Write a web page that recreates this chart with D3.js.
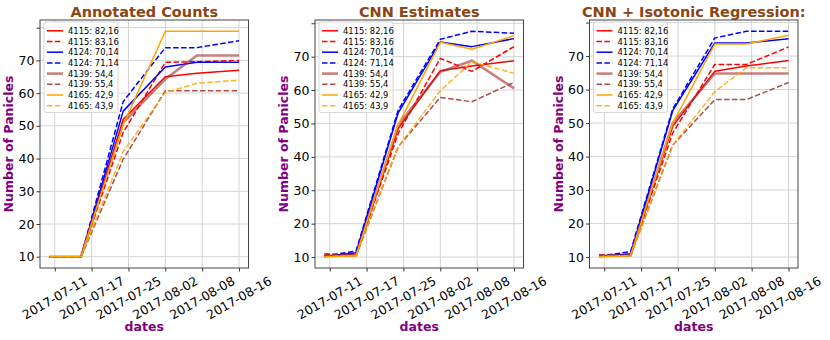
<!DOCTYPE html>
<html><head><meta charset="utf-8">
<script src="https://cdn.jsdelivr.net/npm/d3@7"></script>
<style>body{margin:0;background:#fff}svg{display:block}</style>
</head><body>
<svg id="chart" width="830" height="340"></svg>
<script>
// ---- data ----
const dates = ["2017-07-11","2017-07-17","2017-07-25","2017-08-02","2017-08-08","2017-08-16"];
const tickDates = ["2017-07-12","2017-07-19","2017-07-26","2017-08-02","2017-08-09","2017-08-16"];
const tickLabels = ["2017-07-11","2017-07-17","2017-07-25","2017-08-02","2017-08-08","2017-08-16"];
const yTicks = [10,20,30,40,50,60,70,80];
const yTickLabels = ["10","20","30","40","50","60","70",""];
const seriesNames = ["4115: 82,16","4115: 83,16","4124: 70,14","4124: 71,14","4139: 54,4","4139: 55,4","4165: 42,9","4165: 43,9"];
const titles = ["Annotated Counts","CNN Estimates","CNN + Isotonic Regression:"];

const annotatedCounts = [
  [10,10,52.0,65.0,66.1,67.0],
  [10,10,48.0,69.4,69.6,70.0],
  [10,10,54.5,68.0,69.4,69.4],
  [10,10,57.4,73.9,73.9,76.0],
  [10,10,51.0,64.3,71.5,71.5],
  [10,10,39.8,60.7,60.7,60.7],
  [10,10,50.3,78.9,78.9,78.9],
  [10,10,42.1,60.2,63.0,64.0]
];
const cnnEstimates = [
  [10.2,10.6,48.5,65.8,67.2,68.8],
  [10.8,10.7,47.0,69.5,65.6,73.0],
  [10.2,11.3,53.2,74.4,73.0,75.4],
  [10.3,11.8,54.0,75.2,77.6,77.0],
  [10.3,10.5,49.5,65.5,68.8,60.5],
  [11.0,10.4,43.0,57.8,56.5,62.3],
  [10.1,10.4,49.6,74.3,72.2,76.3],
  [10.2,10.5,43.0,59.8,68.5,65.0]
];
const cnnIsotonic = [
  [10.2,10.6,49.0,65.5,67.0,68.7],
  [10.6,10.6,47.0,67.5,67.5,72.7],
  [10.2,11.0,53.7,73.9,73.9,75.2],
  [10.3,11.6,54.2,75.4,77.4,77.4],
  [10.3,10.5,50.0,64.8,64.8,64.8],
  [10.7,10.4,43.4,57.0,57.0,62.1],
  [10.1,10.4,49.9,73.6,73.6,76.2],
  [10.2,10.5,43.4,59.4,66.5,66.5]
];
const panelData = [annotatedCounts, cnnEstimates, cnnIsotonic];

// ---- styles ----
const seriesColors = ["#ff0000","#ff0000","#0000ff","#0000ff","#a52a2a","#a52a2a","#ffa500","#ffa500"];
const seriesDashed = [false,true,false,true,false,true,false,true];
const seriesWidth = [1.5,1.5,1.5,1.5,2.6,1.5,1.5,1.5];
const seriesOpacity = [1,1,1,1,0.6,0.85,1,0.85];

const svg = d3.select("#chart");
const parse = d3.timeParse("%Y-%m-%d");
const dateVals = dates.map(parse);
const panelLefts = [40, 315, 589.5];
const pw = 208.5, plotTop = 20, plotBottom = 268;
const font = "DejaVu Sans";

panelData.forEach((data, pi) => {
  const left = panelLefts[pi], right = left + pw;
  const g = svg.append("g");
  const t0 = dateVals[0].getTime(), t1 = dateVals[dateVals.length-1].getTime();
  const tp = (t1 - t0) * 0.05;
  const x = d3.scaleTime().domain([new Date(t0 - tp), new Date(t1 + tp)]).range([left, right]);
  const all = data.flat();
  const mn = d3.min(all), mx = d3.max(all), yp = (mx - mn) * 0.05;
  const y = d3.scaleLinear().domain([mn - yp, mx + yp]).range([plotBottom, plotTop]);

  // grid
  const tds = tickDates.map(parse);
  const yt = yTicks.filter(v => y(v) >= plotTop);
  g.append("g").selectAll("line").data(tds).join("line")
    .attr("x1", d => x(d)).attr("x2", d => x(d)).attr("y1", plotTop).attr("y2", plotBottom)
    .attr("stroke", "#d4d4d4").attr("stroke-width", 1);
  g.append("g").selectAll("line").data(yt).join("line")
    .attr("x1", left).attr("x2", right).attr("y1", d => y(d)).attr("y2", d => y(d))
    .attr("stroke", "#d4d4d4").attr("stroke-width", 1);

  // axes
  const yAxis = d3.axisLeft(y).tickValues(yt)
    .tickFormat(d => yTickLabels[yTicks.indexOf(d)]).tickSize(3.5).tickPadding(2);
  const ya = g.append("g").attr("transform", `translate(${left},0)`).call(yAxis);
  ya.select(".domain").remove();
  ya.selectAll("line").attr("stroke", "#333");
  ya.selectAll("text").attr("font-family", font).attr("font-size", 12.5).attr("fill", "#000");

  const xAxis = d3.axisBottom(x).tickValues(tds).tickFormat("").tickSize(3.5);
  const xa = g.append("g").attr("transform", `translate(0,${plotBottom})`).call(xAxis);
  xa.select(".domain").remove();
  xa.selectAll("line").attr("stroke", "#333");

  // x tick labels rotated 30 deg, centered on tick
  tds.forEach((d, i) => {
    const t = g.append("text").text(tickLabels[i])
      .attr("font-family", font).attr("font-size", 12.5).attr("fill", "#000")
      .attr("text-anchor", "middle").attr("dominant-baseline", "central");
    const w = t.node().getComputedTextLength();
    const H = w * 0.5 + 9.5 * 0.866;
    t.attr("transform", `translate(${x(d)},${plotBottom + 7.5 + H / 2}) rotate(-30)`);
  });

  // lines
  const line = d3.line().x((d, i) => x(dateVals[i])).y(d => y(d));
  data.forEach((s, si) => {
    g.append("path").datum(s).attr("d", line).attr("fill", "none")
      .attr("stroke", seriesColors[si]).attr("stroke-width", seriesWidth[si])
      .attr("stroke-opacity", seriesOpacity[si])
      .attr("stroke-dasharray", seriesDashed[si] ? "5.5,2.4" : null)
      .attr("stroke-linejoin", "round");
  });

  // spines
  g.append("rect").attr("x", left).attr("y", plotTop).attr("width", pw).attr("height", plotBottom - plotTop)
    .attr("fill", "none").attr("stroke", "#444").attr("stroke-width", 1);

  // legend
  const lx = left + 4, ly = plotTop + 2, rowH = 10.7;
  const lg = g.append("g");
  lg.append("rect").attr("x", lx).attr("y", ly).attr("width", 74).attr("height", 90.5)
    .attr("rx", 2).attr("fill", "#fff").attr("fill-opacity", 0.85)
    .attr("stroke", "#cccccc").attr("stroke-width", 0.8);
  seriesNames.forEach((nm, si) => {
    const cy = ly + 8.8 + si * rowH;
    lg.append("line").attr("x1", lx + 3).attr("x2", lx + 19).attr("y1", cy).attr("y2", cy)
      .attr("stroke", seriesColors[si]).attr("stroke-width", seriesWidth[si])
      .attr("stroke-opacity", seriesOpacity[si])
      .attr("stroke-dasharray", seriesDashed[si] ? "5.5,2.4" : null);
    lg.append("text").attr("x", lx + 24).attr("y", cy).attr("dominant-baseline", "central")
      .attr("font-family", font).attr("font-size", 8.4).attr("fill", "#000").text(nm);
  });

  // title
  g.append("text").attr("x", left + pw / 2).attr("y", 16.5).attr("text-anchor", "middle")
    .attr("font-family", font).attr("font-weight", "bold").attr("font-size", 14.5)
    .attr("fill", "#8b4513").text(titles[pi]);
  // y label
  g.append("text").attr("transform", `translate(${left - 27},${(plotTop + plotBottom) / 2}) rotate(-90)`)
    .attr("text-anchor", "middle").attr("font-family", font).attr("font-weight", "bold")
    .attr("font-size", 12.5).attr("fill", "#800080").text("Number of Panicles");
  // x label
  g.append("text").attr("x", left + pw / 2).attr("y", 331).attr("text-anchor", "middle")
    .attr("font-family", font).attr("font-weight", "bold").attr("font-size", 12.5)
    .attr("fill", "#800080").text("dates");
});
</script>
</body></html>
